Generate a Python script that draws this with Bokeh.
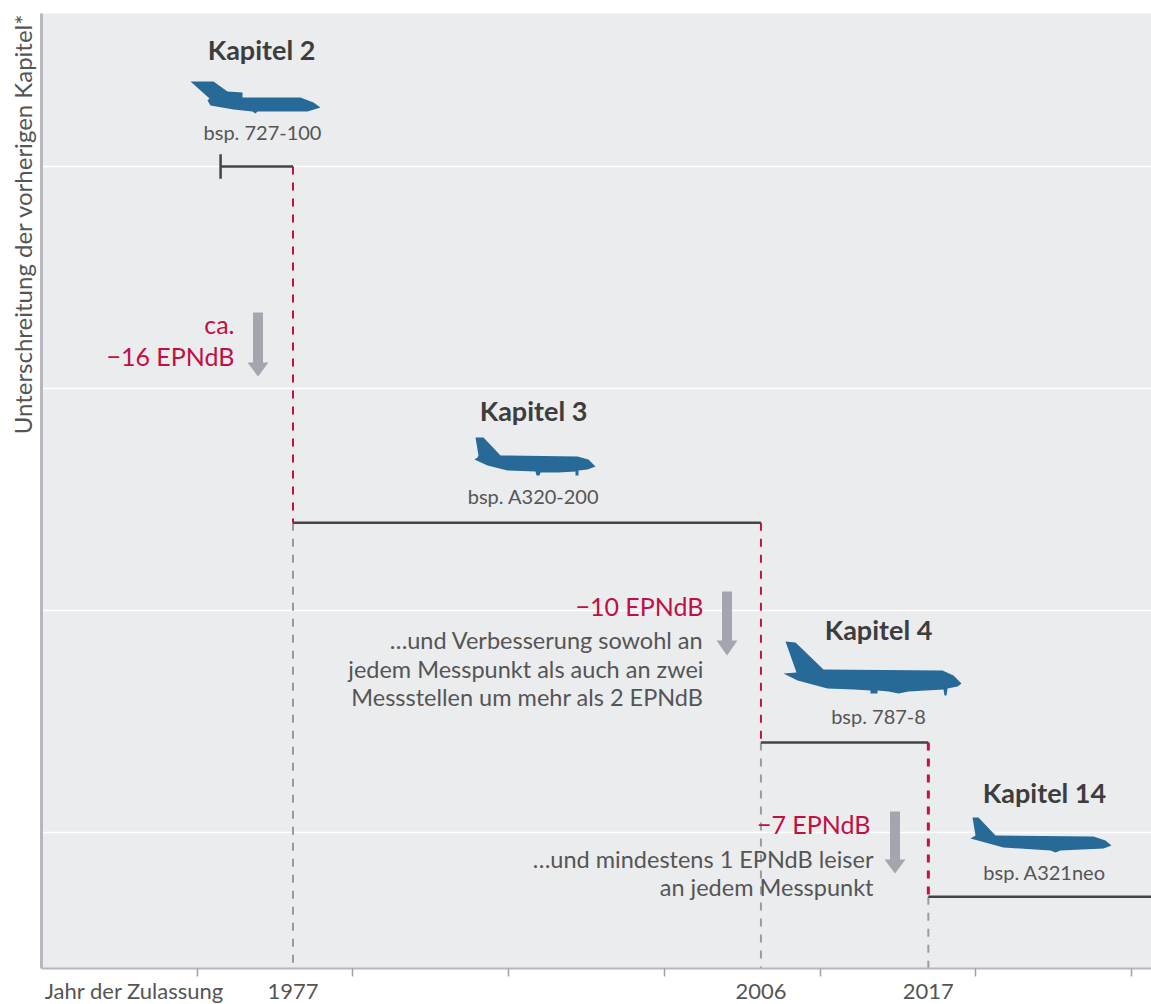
from bokeh.plotting import figure
from bokeh.embed import file_html
from bokeh.resources import INLINE
from bokeh.models import FixedTicker, Range1d, Title
from bokeh.core.properties import value

# ---- data ----
chapters = ["Kapitel 2", "Kapitel 3", "Kapitel 4", "Kapitel 14"]
examples = ["bsp. 727-100", "bsp. A320-200", "bsp. 787-8", "bsp. A321neo"]
chapter_start = [1971.5, 1976.15, 2006.2, 2016.95]
chapter_end = [1976.15, 2006.2, 2016.95, 2032.0]
chapter_level = [0, -16.05, -25.95, -32.9]
grid_levels = [0, -10, -20, -30]
decade_ticks = [1970, 1980, 1990, 2000, 2010, 2020, 2030]
year_ticks = [1976.15, 2006.2, 2016.95]
year_labels = ["1977", "2006", "2017"]
axis_caption = "Jahr der Zulassung"
y_caption = "Unterschreitung der vorherigen Kapitel*"

FONT = "Lato"
W, H = 1151, 1004
FL, FT, FR, FB = 41, 13, 1151, 968   # frame in page pixels
x0, x1 = 1960.0, 2031.28
y0, y1 = -36.13, 6.89


def X(px):
    return x0 + (px - FL) / (FR - FL) * (x1 - x0)


def Y(py):
    return y1 - (py - FT) / (FB - FT) * (y1 - y0)


p = figure(width=W, height=H, output_backend="svg", toolbar_location=None,
           frame_width=FR - FL, frame_height=FB - FT,
           x_range=Range1d(x0, x1), y_range=Range1d(y0, y1),
           min_border_left=FL, min_border_top=FT, min_border_right=W - FR,
           min_border_bottom=H - FB)
p.background_fill_color = "#ebecee"
p.border_fill_color = "white"
p.outline_line_color = None
p.xgrid.visible = False

# axes
AX = "#b7b8bf"
caption_tick = X(134)
xa = p.xaxis[0]
xa.ticker = FixedTicker(ticks=[caption_tick] + year_ticks, minor_ticks=decade_ticks)
xa.major_label_overrides = dict(zip([caption_tick] + year_ticks, [axis_caption] + year_labels))
xa.axis_line_color = AX
xa.axis_line_width = 2
xa.major_tick_line_color = None
xa.minor_tick_line_color = "#a0a0a6"
xa.minor_tick_line_width = 1.5
xa.major_tick_in = 0
xa.major_tick_out = 0
xa.minor_tick_in = 0
xa.minor_tick_out = 8
xa.major_label_standoff = 0
xa.major_label_text_font = FONT
xa.major_label_text_font_size = "22px"
xa.major_label_text_color = "#555555"

ya = p.yaxis[0]
ya.ticker = FixedTicker(ticks=[])
ya.axis_line_color = AX
ya.axis_line_width = 3
p.add_layout(Title(text=y_caption, align="right", text_font=FONT, text_font_style="normal",
                   text_font_size="24px", text_color="#555555"), "left")
p.ygrid.ticker = FixedTicker(ticks=grid_levels)
p.ygrid.grid_line_color = "white"
p.ygrid.grid_line_width = 1.5

# dashed year guides
p.segment(x0=year_ticks, x1=year_ticks, y0=chapter_level[1:], y1=[y0] * 3,
          line_color="#9a9aa2", line_width=2, line_dash="8 8")
# red steps
p.segment(x0=year_ticks, x1=year_ticks, y0=chapter_level[:-1], y1=chapter_level[1:],
          line_color="#c4123f", line_width=[2, 2, 3], line_dash="8 8")
# chapter levels
p.segment(x0=chapter_start, x1=chapter_end, y0=chapter_level, y1=chapter_level,
          line_color="#444444", line_width=2.5)
# start cap of Kapitel 2
p.segment(x0=chapter_start[:1], x1=chapter_start[:1], y0=[0.55], y1=[-0.55],
          line_color="#444444", line_width=2.5)

# grey arrows: centre x, top, head start, tip (pixels)
arrows = [(257.5, 312, 362, 376), (726.5, 591, 640, 655), (894.5, 811, 859, 873)]
ax_, ay_ = [], []
for cx, top, hd, tip in arrows:
    ax_.append([X(cx + d) for d in (-5, 5, 5, 10.5, 0, -10.5, -5)])
    ay_.append([Y(v) for v in (top, top, hd, hd, tip, hd, hd)])
p.patches(ax_, ay_, fill_color="#a4a5ae", line_color=None)

# aircraft silhouettes (icon outlines, page pixels)
plane_727 = [(190, 81), (213, 81), (227, 91), (242, 92), (242, 97), (300, 97), (313, 102),
             (320, 107), (307, 111), (257, 111), (255, 113), (252, 111), (233, 109),
             (210, 105), (207, 100), (209, 98)]
plane_a320 = [(475, 437), (483, 437), (500, 455), (577, 456), (588, 459), (595, 466),
              (587, 469), (578, 470), (578, 475), (575, 475), (575, 471), (558, 472),
              (540, 472), (539, 475), (536, 475), (535, 471), (507, 470), (487, 465),
              (474, 459), (477, 457), (478, 455)]
plane_787 = [(785, 641), (795, 642), (823, 669), (942, 670), (953, 675), (961, 683),
             (957, 686), (947, 688), (946, 695), (944, 695), (943, 689), (908, 691),
             (898, 693), (888, 691), (877, 690), (877, 693), (870, 693), (870, 690),
             (853, 689), (827, 688), (797, 680), (783, 673), (796, 672)]
plane_a321 = [(972, 817), (978, 817), (995, 835), (1093, 836), (1105, 840), (1111, 845),
              (1103, 848), (1060, 850), (1055, 852), (1050, 850), (1003, 847), (970, 838),
              (975, 835)]
planes = [plane_727, plane_a320, plane_787, plane_a321]
p.patches([[X(a) for a, _ in s] for s in planes], [[Y(b) for _, b in s] for s in planes],
          fill_color="#286a97", line_color=None)

# chapter titles and examples
title_px = [(261, 48.5), (533, 409.5), (878, 628.5), (1044, 791.5)]
ex_px = [(262, 131.5), (533, 495.5), (878, 715.5), (1044, 871.5)]
p.text(x=[X(a) for a, _ in title_px], y=[Y(b) for _, b in title_px], text=chapters,
       text_font=value(FONT), text_font_style="bold", text_font_size="27px",
       text_color="#3d3d3d", text_align="center", text_baseline="middle")
p.text(x=[X(a) for a, _ in ex_px], y=[Y(b) for _, b in ex_px], text=examples,
       text_font=value(FONT), text_font_size="20px",
       text_color="#555555", text_align="center", text_baseline="middle")

# red step labels
red_text = ["ca.", "\u221216 EPNdB", "\u221210 EPNdB", "\u22127 EPNdB"]
red_px = [(234, 323.5), (234, 355.5), (703, 605.5), (870, 823.5)]
p.text(x=[X(a) for a, _ in red_px], y=[Y(b) for _, b in red_px], text=red_text,
       text_font=value(FONT), text_font_size="25px", text_color="#bf1045",
       text_align="right", text_baseline="middle")

# notes
notes = ["\u2026und Verbesserung sowohl an", "jedem Messpunkt als auch an zwei",
         "Messstellen um mehr als 2 EPNdB", "\u2026und mindestens 1 EPNdB leiser",
         "an jedem Messpunkt"]
note_px = [(703, 639), (703, 668), (703, 696), (873, 858), (873, 886)]
p.text(x=[X(a) for a, _ in note_px], y=[Y(b) for _, b in note_px], text=notes,
       text_font=value(FONT), text_font_size="23.5px", text_color="#555555",
       text_align="right", text_baseline="middle")

open("out.html", "w").write(file_html(p, INLINE))
